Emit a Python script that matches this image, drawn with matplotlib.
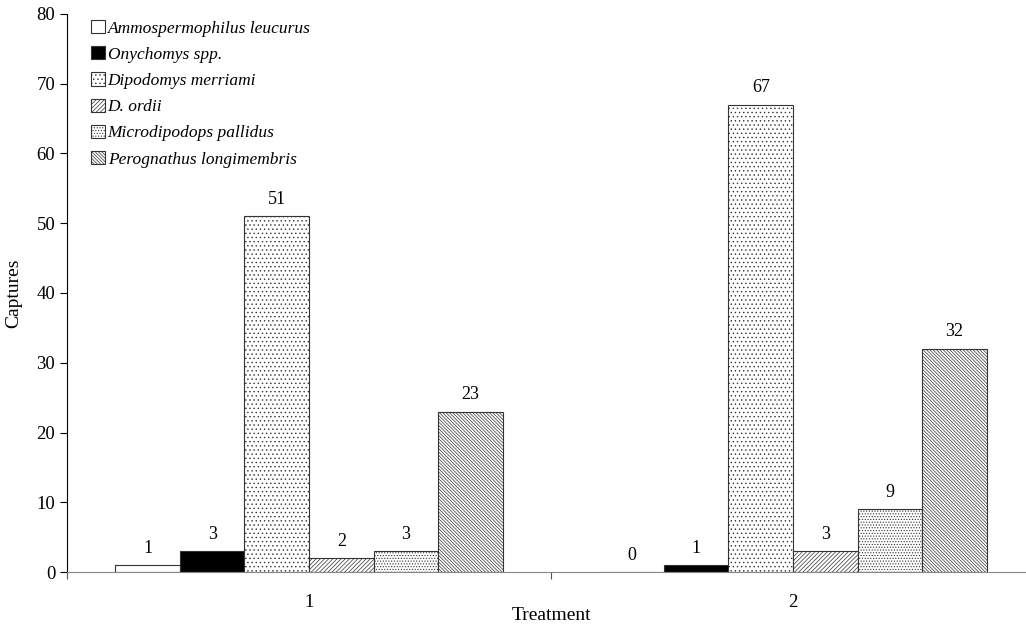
import numpy as np
import matplotlib
matplotlib.use('Agg')
import matplotlib.pyplot as plt

# data
treatments = ['1', '2']
species = ['Ammospermophilus leucurus', 'Onychomys spp.', 'Dipodomys merriami',
           'D. ordii', 'Microdipodops pallidus', 'Perognathus longimembris']
captures_t1 = [1, 3, 51, 2, 3, 23]
captures_t2 = [0, 1, 67, 3, 9, 32]

# bar styles, one per species
faces = ['white', 'black', 'white', 'white', 'white', 'white']
hatches = [None, None, '....', '////////', '......', '\\\\\\\\\\\\\\\\\\\\']

plt.rcParams['font.family'] = ['Liberation Serif', 'DejaVu Serif']
plt.rcParams['hatch.linewidth'] = 0.5
plt.rcParams['hatch.color'] = '#666666'

fig = plt.figure(figsize=(10.26, 6.24), dpi=100)
ax = fig.add_axes([0.0653, 0.0833, 0.9435, 0.8943])

values = np.array([captures_t1, captures_t2])
x = np.arange(len(treatments))
width = 0.8 / len(species)

for i, name in enumerate(species):
    pos = x - 0.4 + width * (i + 0.5)
    bars = ax.bar(pos, values[:, i], width=width, color=faces[i], hatch=hatches[i],
                  edgecolor='#333333', linewidth=0.8, label=name)
    for b, v in zip(bars, values[:, i]):
        ax.text(b.get_x() + b.get_width() / 2, v + 1.2, str(v),
                ha='center', va='bottom', fontsize=13)

ax.set_xlim(-0.5, 1.5)
ax.set_ylim(0, 80)
ax.set_yticks(np.arange(0, 81, 10))
ax.tick_params(axis='y', labelsize=13.5, direction='out', length=5, width=0.8)

# category boundary ticks, labels in the middle
ax.set_xticks([-0.5, 0.5, 1.5])
ax.set_xticklabels([])
ax.set_xticks(x, minor=True)
ax.set_xticklabels(treatments, minor=True, fontsize=13.5)
ax.tick_params(axis='x', which='major', direction='out', length=5, width=0.8, colors='#555555')
ax.tick_params(axis='x', which='minor', length=0, pad=16)

ax.spines['top'].set_visible(False)
ax.spines['right'].set_visible(False)
ax.spines['bottom'].set_color('#888888')
ax.spines['left'].set_linewidth(0.8)

ax.set_ylabel('Captures', fontsize=14, labelpad=10)
ax.set_xlabel('Treatment', fontsize=14)
ax.xaxis.set_label_coords(0.5, -0.062)

leg = ax.legend(loc='upper left', bbox_to_anchor=(0.016, 1.005), frameon=False,
                prop={'style': 'italic', 'size': 12.5}, handlelength=0.8, handleheight=0.8,
                handletextpad=0.15, labelspacing=0.55, borderaxespad=0.1)

fig.savefig('out.png', dpi=100)
